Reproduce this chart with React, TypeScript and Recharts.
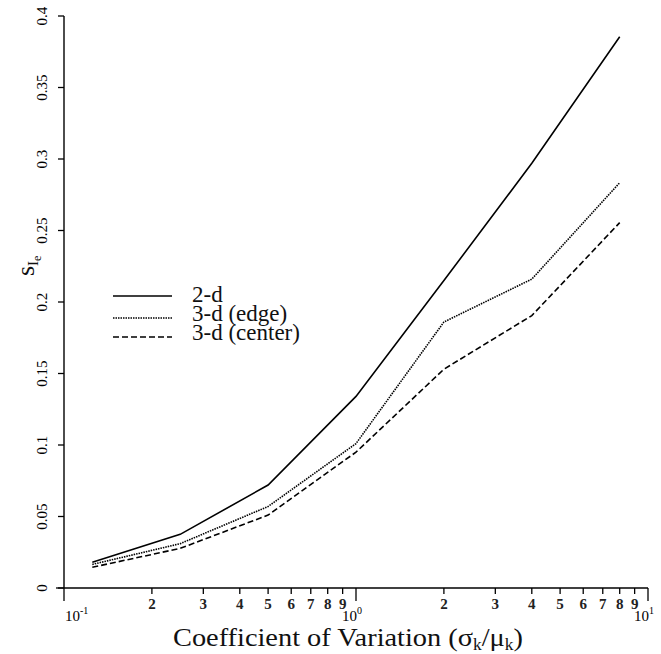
import { LineChart, Line, XAxis, YAxis, Legend } from "recharts";

// coefficient of variation (sigma_k / mu_k)
const cv = [0.125, 0.25, 0.5, 1, 2, 4, 8];
const twoD = [0.018, 0.0375, 0.072, 0.134, 0.215, 0.297, 0.3855];
const threeDEdge = [0.0165, 0.031, 0.057, 0.101, 0.186, 0.216, 0.2834];
const threeDCenter = [0.0145, 0.0277, 0.051, 0.095, 0.153, 0.1905, 0.2555];

const xTicks = [
  0.1, 0.2, 0.3, 0.4, 0.5, 0.6, 0.7, 0.8, 0.9,
  1, 2, 3, 4, 5, 6, 7, 8, 9, 10,
];
const xTickLabels = [
  "10^-1", "2", "3", "4", "5", "6", "7", "8", "9",
  "10^0", "2", "3", "4", "5", "6", "7", "8", "9", "10^1",
];
const yTicks = [0, 0.05, 0.1, 0.15, 0.2, 0.25, 0.3, 0.35, 0.4];
const yTickLabels = ["0", "0.05", "0.1", "0.15", "0.2", "0.25", "0.3", "0.35", "0.4"];

const seriesNames = ["2-d", "3-d (edge)", "3-d (center)"];

const data = cv.map((x, i) => ({
  x,
  twoD: twoD[i],
  edge: threeDEdge[i],
  center: threeDCenter[i],
}));

const FONT = "Liberation Serif";

function XTick(props: any) {
  const { x, y, payload, index } = props;
  const label = xTickLabels[index] ?? String(payload.value);
  const isDecade = label.includes("^");
  const [base, exp] = label.split("^");
  const first = index === 0;
  return (
    <g>
      <line x1={x} y1={y} x2={x} y2={y + (isDecade ? 13 : 6)} stroke="#000" strokeWidth={1.3} />
      {first && <line x1={x - 8} y1={y} x2={x} y2={y} stroke="#000" strokeWidth={1.3} />}
      {isDecade ? (
        <text
          x={first ? x + 1 : x - 4}
          y={y + 33}
          textAnchor={first ? "start" : "middle"}
          fontFamily={FONT}
          fontSize={15}
          fill="#000"
        >
          {base}
          <tspan dy={-7} fontSize={10}>
            {exp}
          </tspan>
        </text>
      ) : (
        <text
          x={x}
          y={y + 21}
          textAnchor="middle"
          fontFamily={FONT}
          fontSize={15}
          fontWeight="bold"
          fill="#222"
        >
          {label}
        </text>
      )}
    </g>
  );
}

function YTick(props: any) {
  const { x, y, index } = props;
  return (
    <g>
      <line x1={x - 6} y1={y} x2={x} y2={y} stroke="#000" strokeWidth={1.3} />
      <text
        transform={`translate(${x - 17}, ${y}) rotate(-90)`}
        textAnchor="middle"
        fontFamily={FONT}
        fontSize={15}
        fill="#000"
      >
        {yTickLabels[index]}
      </text>
    </g>
  );
}

function XLabel() {
  return (
    <text
      x={173}
      y={646}
      fontFamily={FONT}
      fontSize={26}
      fill="#111"
      textLength={350}
      lengthAdjust="spacingAndGlyphs"
    >
      Coefficient of Variation (σ
      <tspan dy={4} fontSize={16}>k</tspan>
      <tspan dy={-4}>/μ</tspan>
      <tspan dy={4} fontSize={16}>k</tspan>
      <tspan dy={-4}>)</tspan>
    </text>
  );
}

function YLabel() {
  return (
    <text transform="translate(34, 276) rotate(-90)" fontFamily={FONT} fontSize={26} fill="#111">
      s
      <tspan dy={4} fontSize={15}>I</tspan>
      <tspan dy={3} fontSize={12}>e</tspan>
    </text>
  );
}

const legendStyles = [
  { dash: undefined, width: 1.6 },
  { dash: "1.5 1", width: 1.6 },
  { dash: "6 3", width: 1.6 },
];

function LegendBox() {
  const lineY = [16, 38, 57];
  const textY = [22, 41, 60];
  return (
    <svg width={240} height={70}>
      {seriesNames.map((name, i) => (
        <g key={name}>
          <line
            x1={13}
            y1={lineY[i]}
            x2={72}
            y2={lineY[i]}
            stroke="#000"
            strokeWidth={legendStyles[i].width}
            strokeDasharray={legendStyles[i].dash}
          />
          <text x={92} y={textY[i]} fontFamily={FONT} fontSize={23} fill="#111">
            {name}
          </text>
        </g>
      ))}
    </svg>
  );
}

export default function App() {
  return (
    <div
      style={{
        position: "absolute",
        left: 0,
        top: 0,
        width: 661,
        height: 654,
        background: "#fff",
      }}
    >
      <LineChart
        width={661}
        height={654}
        data={data}
        margin={{ top: 16, right: 13, bottom: 0, left: 0 }}
      >
        <XAxis
          dataKey="x"
          type="number"
          scale="log"
          domain={[0.1, 10]}
          ticks={xTicks}
          interval={0}
          allowDataOverflow
          height={66}
          tickSize={0}
          tickMargin={0}
          tickLine={false}
          axisLine={{ stroke: "#000", strokeWidth: 1.4 }}
          tick={<XTick />}
          label={<XLabel />}
        />
        <YAxis
          type="number"
          domain={[0, 0.4]}
          ticks={yTicks}
          interval={0}
          width={64}
          tickSize={0}
          tickMargin={0}
          tickLine={false}
          axisLine={{ stroke: "#000", strokeWidth: 1.4 }}
          tick={<YTick />}
          label={<YLabel />}
        />
        <Legend
          layout="vertical"
          align="center"
          verticalAlign="middle"
          wrapperStyle={{ left: 100, top: 280, width: 240, height: 70 }}
          content={() => <LegendBox />}
        />
        <Line
          dataKey="twoD"
          name={seriesNames[0]}
          stroke="#000"
          strokeWidth={1.6}
          dot={false}
          isAnimationActive={false}
        />
        <Line
          dataKey="edge"
          name={seriesNames[1]}
          stroke="#000"
          strokeWidth={1.6}
          strokeDasharray="1.5 1"
          dot={false}
          isAnimationActive={false}
        />
        <Line
          dataKey="center"
          name={seriesNames[2]}
          stroke="#000"
          strokeWidth={1.6}
          strokeDasharray="6 3"
          dot={false}
          isAnimationActive={false}
        />
      </LineChart>
    </div>
  );
}
